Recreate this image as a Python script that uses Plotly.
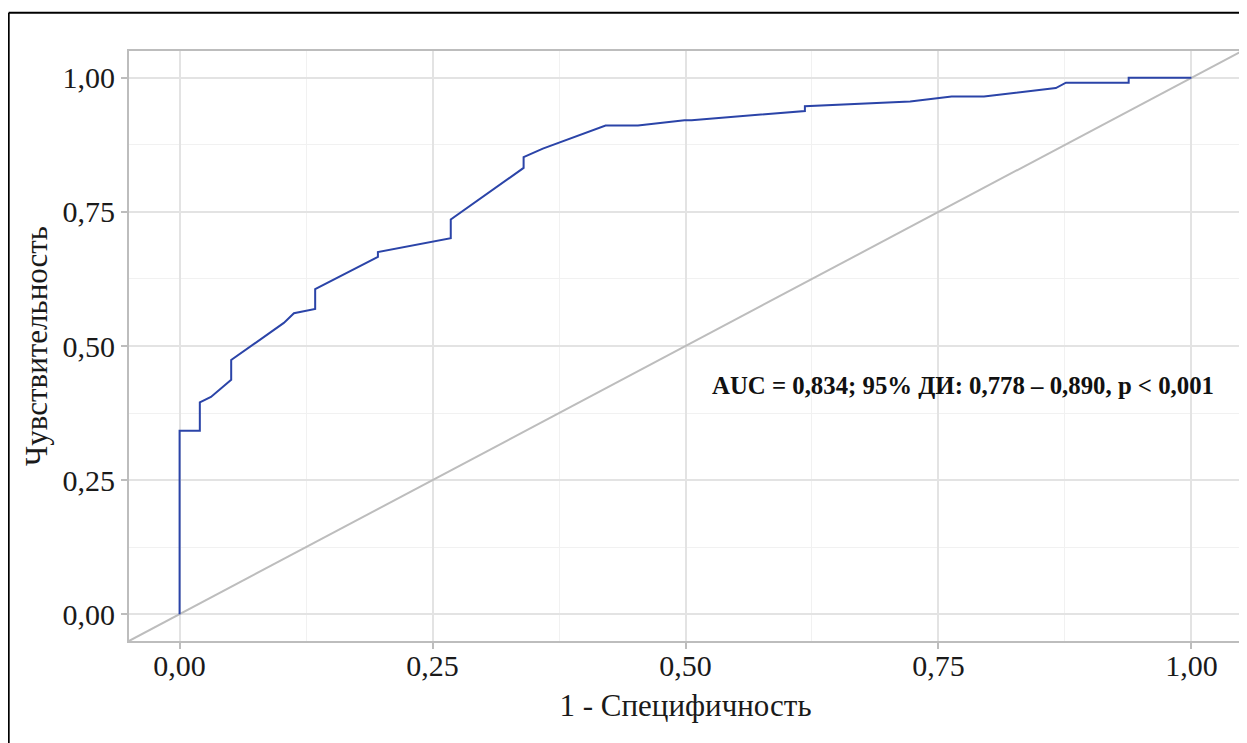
import plotly.graph_objects as go

# ROC curve points (1 - specificity, sensitivity)
fpr = [0.0, 0.0, 0.020, 0.020, 0.031, 0.051, 0.051, 0.103, 0.113, 0.134, 0.134,
       0.196, 0.196, 0.268, 0.268, 0.340, 0.340, 0.359, 0.421, 0.453, 0.499,
       0.506, 0.618, 0.618, 0.722, 0.763, 0.795, 0.866, 0.876, 0.938, 0.938, 1.0]
tpr = [0.0, 0.342, 0.342, 0.395, 0.405, 0.437, 0.474, 0.543, 0.561, 0.569, 0.606,
       0.666, 0.675, 0.701, 0.736, 0.832, 0.852, 0.868, 0.911, 0.911, 0.921,
       0.921, 0.938, 0.947, 0.956, 0.965, 0.965, 0.981, 0.991, 0.991, 1.0, 1.0]

diag = [-0.05, 1.05]
tick_vals = [0.0, 0.25, 0.5, 0.75, 1.0]
tick_text = ["0,00", "0,25", "0,50", "0,75", "1,00"]
x_title = "1 - Специфичность"
y_title = "Чувствительность"
auc_text = "<b>AUC = 0,834; 95% ДИ: 0,778 – 0,890, p < 0,001</b>"

FONT = "Liberation Serif"

fig = go.Figure()
fig.add_trace(go.Scatter(x=diag, y=diag, mode="lines",
                         line=dict(color="#BDBDBD", width=2), hoverinfo="skip",
                         showlegend=False))
fig.add_trace(go.Scatter(x=fpr, y=tpr, mode="lines",
                         line=dict(color="#2B44A8", width=2), showlegend=False))

axis_common = dict(
    range=[-0.05, 1.05], tickvals=tick_vals, ticktext=tick_text,
    showgrid=True, gridcolor="#E3E3E3", gridwidth=2,
    minor=dict(dtick=0.125, showgrid=True, gridcolor="#F1F1F1", gridwidth=1, ticks=""),
    zeroline=False, showline=True, linecolor="#BDBDBD", linewidth=2, mirror=True,
    ticks="outside", ticklen=6, tickwidth=2, tickcolor="#BDBDBD",
    tickfont=dict(family=FONT, size=30, color="#1a1a1a"),
)

fig.update_xaxes(**axis_common, ticklabelstandoff=-9,
                 title=dict(text=x_title, standoff=13,
                            font=dict(family=FONT, size=31, color="#1a1a1a")))
fig.update_yaxes(**axis_common, title=dict(text=y_title, standoff=6,
                 font=dict(family=FONT, size=31, color="#1a1a1a")))

fig.add_annotation(x=0.524, y=0.427, xref="x", yref="y", text=auc_text,
                   showarrow=False, xanchor="left", yanchor="middle",
                   font=dict(family=FONT, size=24.8, color="#111111"))

# black frame (left and top edges visible)
fig.add_shape(type="line", xref="paper", yref="paper", x0=-0.1081, x1=-0.1081,
              y0=1.065, y1=-0.2, line=dict(color="black", width=2))
fig.add_shape(type="line", xref="paper", yref="paper", x0=-0.1081, x1=1.01,
              y0=1.065, y1=1.065, line=dict(color="black", width=2))

fig.update_layout(
    width=1239, height=735,
    margin=dict(l=121, r=3, t=43, b=102),
    paper_bgcolor="white", plot_bgcolor="white",
    font=dict(family=FONT),
)

fig.write_html("out.html")
